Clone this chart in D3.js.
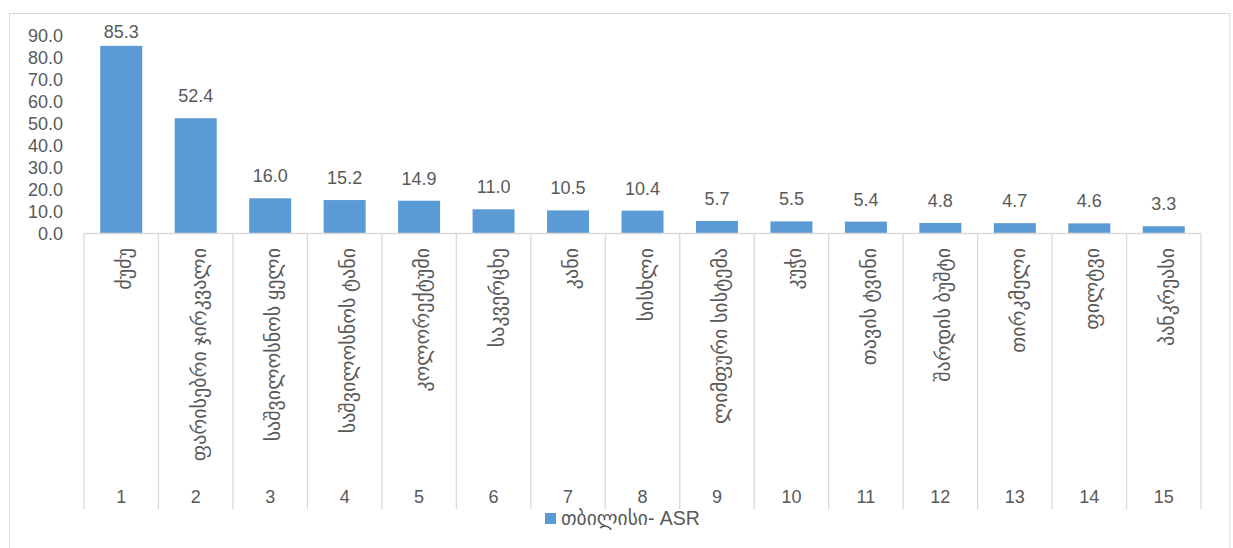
<!DOCTYPE html>
<html><head><meta charset="utf-8">
<script src="https://cdn.jsdelivr.net/npm/d3@7"></script>
<style>
body{margin:0;background:#fff;}
svg{display:block;}
text{font-family:"Liberation Sans",Arial,"DejaVu Sans",sans-serif;fill:#595959;}
</style></head>
<body>
<svg id="c" width="1233" height="548"></svg>
<script>
const categories = ["ძუძუ","ფარისებრი ჯირკვალი","საშვილოსნოს ყელი","საშვილოსნოს ტანი","კოლორექტუმი","საკვერცხე","კანი","სისხლი","ლიმფური სისტემა","კუჭი","თავის ტვინი","შარდის ბუშტი","თირკმელი","ფილტვი","პანკრეასი"];
const groupNumbers = ["1","2","3","4","5","6","7","8","9","10","11","12","13","14","15"];
const values = [85.3,52.4,16.0,15.2,14.9,11.0,10.5,10.4,5.7,5.5,5.4,4.8,4.7,4.6,3.3];
const yTicks = [0,10,20,30,40,50,60,70,80,90];
const seriesName = "თბილისი- ASR";

const svg = d3.select("#c");
const pLeft = 84, pRight = 1201, pTop = 35.5, pBottom = 233.5, sepBottom = 509;

svg.append("rect").attr("x",9.5).attr("y",13.5).attr("width",1220.5).attr("height",560)
  .attr("fill","#fff").attr("stroke","#d9d9d9").attr("stroke-width",1);

const x = d3.scaleBand().domain(groupNumbers).range([pLeft,pRight]).paddingInner(0.436).paddingOuter(0.218);
const xc = d3.scaleBand().domain(groupNumbers).range([pLeft,pRight]);
const y = d3.scaleLinear().domain([0,90]).range([pBottom,pTop]);

// y axis labels
const ya = svg.append("g").attr("transform",`translate(${pLeft},0)`)
  .call(d3.axisLeft(y).tickValues(yTicks).tickFormat(d3.format(".1f")).tickSize(0).tickPadding(21));
ya.select(".domain").remove();
ya.selectAll("text").attr("font-size","18px").attr("fill","#595959")
  .attr("font-family","Liberation Sans, Arial, sans-serif");

// bars
svg.append("g").selectAll("rect").data(values).join("rect")
  .attr("x",(d,i)=>x(groupNumbers[i])).attr("width",x.bandwidth())
  .attr("y",d=>y(d)).attr("height",d=>y(0)-y(d)).attr("fill","#5b9bd5");

// data labels
svg.append("g").selectAll("text").data(values).join("text")
  .attr("x",(d,i)=>x(groupNumbers[i])+x.bandwidth()/2).attr("y",d=>Math.max(y(d)-16,38))
  .attr("text-anchor","middle").attr("font-size","18px").attr("fill","#404040")
  .text(d=>d3.format(".1f")(d));

// x axis line and separators
const ax = svg.append("g").attr("stroke","#d9d9d9").attr("stroke-width",1.3);
ax.append("line").attr("x1",pLeft).attr("x2",pRight).attr("y1",pBottom).attr("y2",pBottom);
const bounds = groupNumbers.map(g=>xc(g)).concat([pRight]);
ax.selectAll("line.sep").data(bounds).join("line").attr("class","sep")
  .attr("x1",d=>d).attr("x2",d=>d).attr("y1",pBottom).attr("y2",sepBottom);

// category names (rotated)
svg.append("g").selectAll("text").data(categories).join("text")
  .attr("transform",(d,i)=>`translate(${xc(groupNumbers[i])+xc.bandwidth()/2+3},248) rotate(-90)`)
  .attr("text-anchor","end").attr("dy","0.35em").attr("font-size","20px")
  .attr("font-family","DejaVu Sans, sans-serif").attr("fill","#595959")
  .text(d=>d);

// group numbers
svg.append("g").selectAll("text").data(groupNumbers).join("text")
  .attr("x",d=>xc(d)+xc.bandwidth()/2).attr("y",503)
  .attr("text-anchor","middle").attr("font-size","18px").text(d=>d);

// legend
const lg = svg.append("g");
lg.append("rect").attr("x",545).attr("y",513).attr("width",11).attr("height",11).attr("fill","#5b9bd5");
lg.append("text").attr("x",561).attr("y",525).attr("font-size","19.5px").text(seriesName);
</script>
</body></html>
